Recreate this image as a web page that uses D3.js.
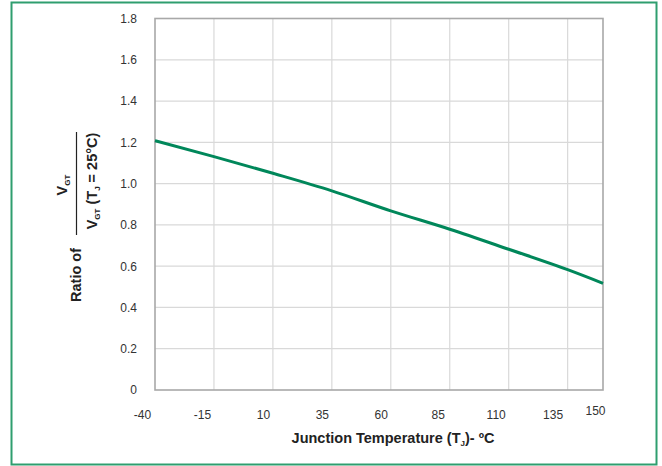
<!DOCTYPE html>
<html><head><meta charset="utf-8">
<script src="https://cdn.jsdelivr.net/npm/d3@7/dist/d3.min.js"></script>
<style>
html,body{margin:0;padding:0;background:#fff;}
svg{display:block;font-family:"Liberation Sans",Arial,sans-serif;}
</style></head>
<body>
<svg id="chart" width="662" height="466"></svg>
<script>
const temps = [-40, -15, 10, 35, 60, 85, 110, 135, 150];
const ratios = [1.208, 1.131, 1.05, 0.965, 0.868, 0.779, 0.682, 0.583, 0.517];
const xTickValues = [-40, -15, 10, 35, 60, 85, 110, 135, 150];
const xGridValues = [-15, 10, 35, 60, 85, 110, 135];
const yTickValues = [0, 0.2, 0.4, 0.6, 0.8, 1.0, 1.2, 1.4, 1.6, 1.8];

const svg = d3.select("#chart");
const margin = {left: 155, right: 59, top: 18.5, bottom: 76};
const W = 662, H = 466;
const x = d3.scaleLinear().domain([-40, 150]).range([margin.left, W - margin.right]);
const y = d3.scaleLinear().domain([0, 1.8]).range([H - margin.bottom, margin.top]);

// outer frame
svg.append("rect").attr("x", 11.5).attr("y", 2.5).attr("width", 645).attr("height", 462)
  .attr("fill", "none").attr("stroke", "#2f9e6f").attr("stroke-width", 2);

// grid
svg.append("g").selectAll("line").data(yTickValues.slice(1, -1)).join("line")
  .attr("x1", x(-40)).attr("x2", x(150)).attr("y1", d => y(d)).attr("y2", d => y(d))
  .attr("stroke", "#d9d9d9").attr("stroke-width", 1.2);
svg.append("g").selectAll("line").data(xGridValues).join("line")
  .attr("x1", d => x(d)).attr("x2", d => x(d)).attr("y1", y(0)).attr("y2", y(1.8))
  .attr("stroke", "#d9d9d9").attr("stroke-width", 1.2);

// plot border
svg.append("rect").attr("x", x(-40)).attr("y", y(1.8))
  .attr("width", x(150) - x(-40)).attr("height", y(0) - y(1.8))
  .attr("fill", "none").attr("stroke", "#a8a8a8").attr("stroke-width", 1.6);

// y axis
const yAxis = d3.axisLeft(y).tickValues(yTickValues).tickSize(0).tickPadding(18)
  .tickFormat(d => d === 0 ? "0" : d3.format(".1f")(d));
const gy = svg.append("g").attr("transform", `translate(${x(-40)},0)`).call(yAxis);
gy.select(".domain").remove();
gy.selectAll("text").attr("font-size", 12).attr("fill", "#333")
  .attr("font-family", "Liberation Sans, Arial, sans-serif");

// x axis
const xAxis = d3.axisBottom(x).tickValues(xTickValues).tickSize(0).tickPadding(20)
  .tickFormat(d => String(d));
const gx = svg.append("g").attr("transform", `translate(0,${y(0)})`).call(xAxis);
gx.select(".domain").remove();
const xOffsets = {"-40": -13, "-15": -12, "10": -10, "35": -10, "60": -10, "85": -12, "110": -13, "135": -15, "150": -8};
gx.selectAll(".tick text").attr("font-size", 12).attr("fill", "#333")
  .attr("font-family", "Liberation Sans, Arial, sans-serif")
  .attr("dx", d => xOffsets[d])
  .attr("dy", d => d === 150 ? "0.45em" : "0.71em");

// line
const line = d3.line().x((d, i) => x(temps[i])).y(d => y(d)).curve(d3.curveMonotoneX);
svg.append("path").datum(ratios).attr("d", line)
  .attr("fill", "none").attr("stroke", "#00875a").attr("stroke-width", 3)
  .attr("stroke-linecap", "butt");

// x title
const xt = svg.append("text").attr("x", 393).attr("y", 443).attr("text-anchor", "middle")
  .attr("font-size", 14.5).attr("font-weight", "bold").attr("fill", "#222");
xt.append("tspan").text("Junction Temperature (T");
xt.append("tspan").text("J").attr("font-size", 8).attr("dy", 3);
xt.append("tspan").text(")- ºC").attr("dy", -3);

// y title
const yt = svg.append("g").attr("font-weight", "bold").attr("fill", "#222").attr("font-size", 14.5);
yt.append("text").attr("transform", "translate(81,275) rotate(-90)")
  .attr("text-anchor", "middle").text("Ratio of");
// numerator
const num = yt.append("text").attr("transform", "translate(67,185) rotate(-90)")
  .attr("text-anchor", "middle");
num.append("tspan").text("V");
num.append("tspan").text("GT").attr("font-size", 8).attr("dy", 3);
// fraction bar
yt.append("line").attr("x1", 76.5).attr("x2", 76.5).attr("y1", 132).attr("y2", 235)
  .attr("stroke", "#222").attr("stroke-width", 1.2);
// denominator
const den = yt.append("text").attr("transform", "translate(97,181) rotate(-90)")
  .attr("text-anchor", "middle");
den.append("tspan").text("V");
den.append("tspan").text("GT").attr("font-size", 8).attr("dy", 3);
den.append("tspan").text(" (T").attr("dy", -3);
den.append("tspan").text("J").attr("font-size", 8).attr("dy", 3);
den.append("tspan").text(" = 25°C)").attr("dy", -3);
</script>
</body></html>
